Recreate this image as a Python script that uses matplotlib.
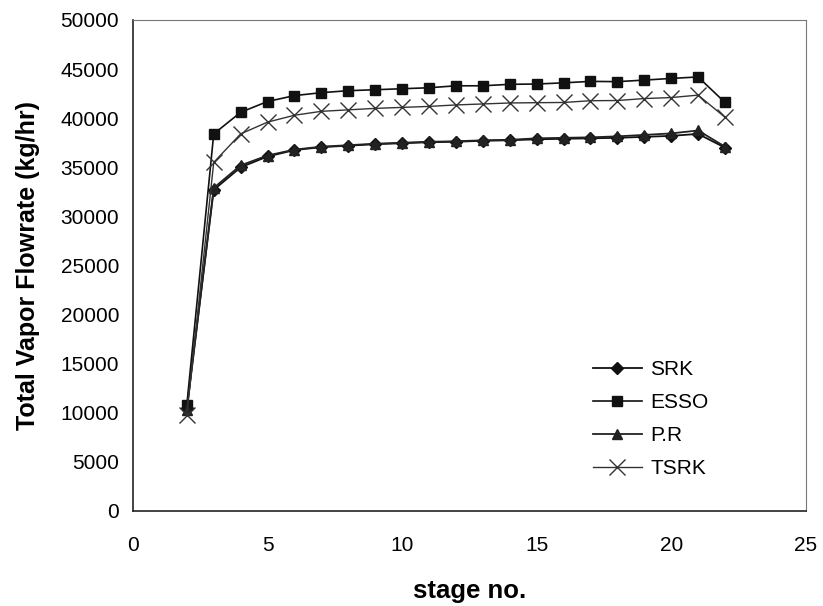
import matplotlib
matplotlib.use("Agg")
import matplotlib.pyplot as plt

plt.rcParams['font.family'] = ['Liberation Sans', 'DejaVu Sans']

# === Data ===
stages = list(range(2, 23))

srk = [10500, 32700, 35000, 36100, 36750, 37050, 37200, 37350, 37450, 37550, 37600,
       37700, 37750, 37850, 37900, 37950, 38000, 38100, 38200, 38400, 37000]
esso = [10800, 38400, 40600, 41700, 42300, 42600, 42800, 42900, 43000, 43100, 43300,
        43300, 43450, 43480, 43600, 43750, 43720, 43880, 44050, 44200, 41600]
pr = [10300, 32900, 35200, 36200, 36800, 37100, 37250, 37400, 37500, 37600, 37650,
      37750, 37800, 37950, 38000, 38050, 38150, 38300, 38450, 38750, 37100]
tsrk = [9800, 35500, 38400, 39600, 40300, 40700, 40850, 41000, 41100, 41200, 41350,
        41450, 41550, 41580, 41600, 41780, 41800, 42000, 42100, 42350, 40100]

xticks = [0, 5, 10, 15, 20, 25]
yticks = list(range(0, 50001, 5000))

# === Plot ===
fig = plt.figure(figsize=(8.23, 6.06), dpi=100)
ax = fig.add_axes([0.1616, 0.1568, 0.8174, 0.8102])

ax.plot(stages, srk, color='#111111', lw=1.3, marker='D', ms=6.5, label='SRK')
ax.plot(stages, esso, color='#111111', lw=1.2, marker='s', ms=7, label='ESSO')
ax.plot(stages, pr, color='#222222', lw=1.3, marker='^', ms=7.5, label='P.R')
ax.plot(stages, tsrk, color='#333333', lw=1.0, marker='x', ms=11, mew=1.0, label='TSRK')

ax.set_xlim(0, 25)
ax.set_ylim(0, 50000)
ax.set_xticks(xticks)
ax.set_yticks(yticks)
ax.tick_params(length=0, labelsize=15)
ax.tick_params(axis='x', pad=18)
ax.tick_params(axis='y', pad=10)

for side in ['top', 'right']:
    ax.spines[side].set_color('#777777')
    ax.spines[side].set_linewidth(0.8)
for side in ['left', 'bottom']:
    ax.spines[side].set_color('#222222')
    ax.spines[side].set_linewidth(1.2)

ax.set_xlabel('stage no.', fontsize=18.5, fontweight='bold', labelpad=17)
ax.set_ylabel('Total Vapor Flowrate (kg/hr)', fontsize=18, fontweight='bold', labelpad=15)

ax.legend(loc='upper left', bbox_to_anchor=(593 / 823, 1 - 360 / 606),
          bbox_transform=fig.transFigure, frameon=False, borderpad=0, borderaxespad=0,
          fontsize=15, handlelength=2.35, handletextpad=0.4, labelspacing=0.68)

plt.savefig('out.png', dpi=100)
plt.close()
